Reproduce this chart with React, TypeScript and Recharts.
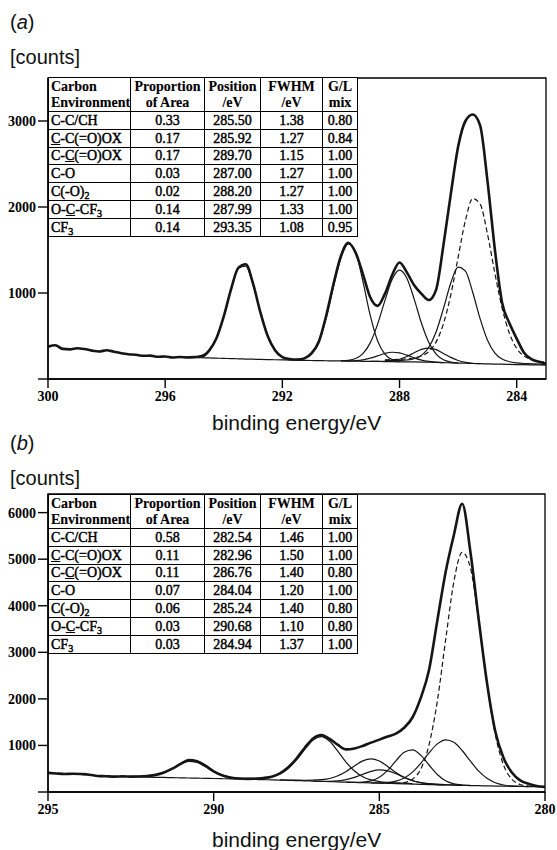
import React from "react";
import { LineChart, Line, XAxis, YAxis, ReferenceArea } from "recharts";

const SERIF = '"Liberation Serif", "DejaVu Serif", serif';
const SANS = '"Liberation Sans", Arial, sans-serif';
const INK = "#151515";

// ---------- panel (a): energy grid, 0.25 eV steps ----------
const E_A = [
  300, 299.75, 299.5, 299.25, 299, 298.75, 298.5, 298.25, 298, 297.75, 297.5, 297.25, 297, 296.75, 296.5,
  296.25, 296, 295.75, 295.5, 295.25, 295, 294.75, 294.5, 294.25, 294, 293.75, 293.5, 293.25, 293, 292.75,
  292.5, 292.25, 292, 291.75, 291.5, 291.25, 291, 290.75, 290.5, 290.25, 290, 289.75, 289.5, 289.25, 289,
  288.75, 288.5, 288.25, 288, 287.75, 287.5, 287.25, 287, 286.75, 286.5, 286.25, 286, 285.75, 285.5, 285.25,
  285, 284.75, 284.5, 284.25, 284, 283.75, 283.5, 283.25, 283,
];
// measured spectrum (counts)
const A_ENV = [
  376, 392, 350, 345, 358, 348, 330, 320, 334, 318,
  300, 288, 282, 270, 272, 258, 262, 250, 256, 250,
  254, 262, 330, 473, 727, 1045, 1295, 1335, 1110, 775,
  500, 335, 255, 232, 226, 240, 300, 440, 740, 1110,
  1430, 1585, 1470, 1220, 950, 850, 990, 1210, 1355, 1240,
  1090, 990, 918, 1040, 1560, 2150, 2700, 3000, 3075, 2950,
  2310, 1520, 890, 650, 470, 305, 230, 200, 180,
];
// [first energy, counts...] for background and fitted components
const A_BG: [number, number[]] = [295.5, [
  255, 252, 250, 247, 245, 242, 240, 237, 235, 232, 230, 228, 226, 224, 222, 220, 219, 217, 215, 214, 212, 211,
  210, 209, 208, 206, 205, 204, 203, 201, 200, 199, 198, 196, 195, 193, 190, 188, 185, 183, 180, 178, 175, 173,
  172, 170, 168, 166, 165, 163, 162,
]];
const A_CF3: [number, number[]] = [295.5, [258, 256, 258, 274, 334, 473, 727, 1045, 1289, 1311, 1099, 778, 500, 331, 255, 230, 223, 220]];
const A_CCOOX_B: [number, number[]] = [291.5, [224, 240, 290, 425, 715, 1080, 1410, 1572, 1477, 1134, 739, 445, 289, 225, 205]];
const A_OCCF3: [number, number[]] = [290, [212, 217, 238, 295, 420, 635, 911, 1159, 1265, 1172, 929, 648, 424, 289, 223, 197, 187]];
const A_CO: [number, number[]] = [289, [205, 205, 206, 212, 230, 262, 305, 344, 360, 341, 297, 251, 215, 194, 183, 179]];
const A_CO2: [number, number[]] = [290, [210, 211, 214, 223, 242, 269, 297, 311, 303, 277, 245, 219, 204, 196, 191]];
const A_CC: [number, number[]] = [288.5, [223, 225, 228, 234, 245, 267, 320, 432, 643, 979, 1415, 1844, 2098, 2035, 1690, 1238, 828, 532, 356, 266, 225, 205, 194]];
const A_CCOOX_A: [number, number[]] = [288.5, [213, 213, 216, 221, 236, 275, 369, 549, 821, 1117, 1301, 1254, 1006, 702, 454, 304, 232, 201, 187, 180, 177, 173, 170]];

// ---------- panel (b) ----------
const E_B = [
  295, 294.75, 294.5, 294.25, 294, 293.75, 293.5, 293.25, 293, 292.75, 292.5, 292.25, 292, 291.75, 291.5,
  291.25, 291, 290.75, 290.5, 290.25, 290, 289.75, 289.5, 289.25, 289, 288.75, 288.5, 288.25, 288, 287.75,
  287.5, 287.25, 287, 286.75, 286.5, 286.25, 286, 285.75, 285.5, 285.25, 285, 284.75, 284.5, 284.25, 284,
  283.75, 283.5, 283.25, 283, 282.75, 282.5, 282.25, 282, 281.75, 281.5, 281.25, 281, 280.75, 280.5, 280.25, 280,
];
const B_ENV = [
  410, 398, 388, 392, 385, 372, 345, 338, 330, 335,
  330, 333, 345, 368, 420, 500, 605, 685, 660, 565,
  445, 360, 310, 290, 282, 284, 300, 330, 400, 530,
  720, 950, 1150, 1225, 1140, 1010, 915, 935, 990, 1060,
  1125, 1190, 1255, 1380, 1600, 2020, 2620, 3680, 4720, 5520,
  6190, 5150, 3700, 2340, 1300, 730, 420, 250, 175, 128,
  110,
];
const B_BG: [number, number[]] = [292.5, [
  328, 324, 320, 316, 312, 309, 305, 301, 297, 294, 290, 286, 282, 279, 275, 270, 265, 260, 255, 250, 245, 240,
  235, 229, 222, 216, 210, 205, 200, 195, 190, 185, 180, 175, 170, 165, 160, 155, 150, 146, 142, 139, 135, 132,
  128, 125, 122, 119, 117, 114, 112,
]];
const B_OCCF3: [number, number[]] = [292.5, [336, 336, 342, 365, 416, 501, 597, 657, 634, 543, 439, 362, 317, 295, 284, 276]];
const B_CCOOX_B: [number, number[]] = [289.5, [294, 293, 293, 294, 302, 328, 388, 506, 689, 916, 1115, 1189, 1089, 874, 637, 450, 327, 259, 226, 208, 197, 189, 182]];
const B_CO2: [number, number[]] = [288, [261, 257, 254, 252, 254, 264, 290, 348, 441, 560, 668, 713, 665, 550, 419, 313, 242, 201, 180, 168, 160, 154, 148]];
const B_CF3: [number, number[]] = [287, [236, 231, 230, 239, 264, 313, 379, 442, 474, 455, 394, 316, 247, 200, 173, 159, 151]];
const B_CO: [number, number[]] = [286, [210, 208, 212, 239, 315, 464, 670, 852, 905, 791, 580, 377, 242, 176, 150, 141]];
const B_CCOOX_A: [number, number[]] = [285.25, [197, 196, 204, 232, 300, 427, 616, 839, 1033, 1121, 1067, 891, 662, 447, 293, 198, 151, 130, 121, 117]];
const B_CC: [number, number[]] = [285, [190, 186, 185, 201, 272, 492, 1013, 1952, 3262, 4518, 5147, 4808, 3684, 2331, 1237, 577, 274, 161, 127, 116, 112]];

// ---------- fit tables ----------
const ENV_NAMES = [
  <>C-C/CH</>,
  <><u>C</u>-C(=O)OX</>,
  <>C-<u>C</u>(=O)OX</>,
  <>C-O</>,
  <>C(-O)<Sub>2</Sub></>,
  <>O-<u>C</u>-CF<Sub>3</Sub></>,
  <>CF<Sub>3</Sub></>,
];
const A_PROP = ["0.33", "0.17", "0.17", "0.03", "0.02", "0.14", "0.14"];
const A_POS = ["285.50", "285.92", "289.70", "287.00", "288.20", "287.99", "293.35"];
const A_FWHM = ["1.38", "1.27", "1.15", "1.27", "1.27", "1.33", "1.08"];
const A_GL = ["0.80", "0.84", "1.00", "1.00", "1.00", "1.00", "0.95"];
const B_PROP = ["0.58", "0.11", "0.11", "0.07", "0.06", "0.03", "0.03"];
const B_POS = ["282.54", "282.96", "286.76", "284.04", "285.24", "290.68", "284.94"];
const B_FWHM = ["1.46", "1.50", "1.40", "1.20", "1.40", "1.10", "1.37"];
const B_GL = ["1.00", "1.00", "0.80", "1.00", "0.80", "0.80", "1.00"];

function Sub({ children }: { children: React.ReactNode }) {
  return <span style={{ fontSize: 10, position: "relative", top: 3, lineHeight: 0 }}>{children}</span>;
}

type Comp = { key: string; part: [number, number[]]; dashed?: boolean };

function buildRows(energies: number[], env: number[], comps: Comp[]) {
  return energies.map((e, i) => {
    const row: Record<string, number | null> = { e, env: env[i] };
    comps.forEach((c) => {
      const [start, vals] = c.part;
      const k = Math.round((start - e) / 0.25);
      row[c.key] = k >= 0 && k < vals.length ? vals[k] : null;
    });
    return row;
  });
}

const COMPS_A: Comp[] = [
  { key: "bg", part: A_BG },
  { key: "cf3", part: A_CF3 },
  { key: "ccooxb", part: A_CCOOX_B },
  { key: "occf3", part: A_OCCF3 },
  { key: "co", part: A_CO },
  { key: "co2", part: A_CO2 },
  { key: "ccooxa", part: A_CCOOX_A },
  { key: "cc", part: A_CC, dashed: true },
];
const COMPS_B: Comp[] = [
  { key: "bg", part: B_BG },
  { key: "occf3", part: B_OCCF3 },
  { key: "ccooxb", part: B_CCOOX_B },
  { key: "co2", part: B_CO2 },
  { key: "cf3", part: B_CF3 },
  { key: "co", part: B_CO },
  { key: "ccooxa", part: B_CCOOX_A },
  { key: "cc", part: B_CC, dashed: true },
];

const tickStyle = { fontFamily: SERIF, fontSize: 14, fontWeight: 700, fill: "#000" };

function Spectrum(props: {
  rows: Record<string, number | null>[];
  comps: Comp[];
  xDomain: [number, number];
  xTicks: number[];
  yMax: number;
  yTicks: number[];
  height: number;
  right: number;
}) {
  const { rows, comps, xDomain, xTicks, yMax, yTicks, height, right } = props;
  return (
    <LineChart width={557} height={height} data={rows} margin={{ top: 78, right, bottom: 0, left: 0 }}>
      <XAxis
        dataKey="e"
        type="number"
        domain={xDomain}
        reversed
        ticks={xTicks}
        allowDataOverflow
        height={30}
        tickSize={9}
        tickMargin={3}
        tick={tickStyle}
        axisLine={{ stroke: "#000", strokeWidth: 1.4 }}
        tickLine={{ stroke: "#000", strokeWidth: 1.4 }}
      />
      <YAxis
        type="number"
        domain={[0, yMax]}
        ticks={yTicks}
        allowDataOverflow
        width={48}
        tickSize={10}
        tickMargin={2}
        tick={tickStyle}
        tickFormatter={(v: number) => (v === 0 ? "" : String(v))}
        axisLine={{ stroke: "#000", strokeWidth: 1.4 }}
        tickLine={{ stroke: "#000", strokeWidth: 1.4 }}
      />
      <ReferenceArea x1={xDomain[0]} x2={xDomain[1]} y1={0} y2={yMax} fill="none" stroke="#000" strokeWidth={1.3} />
      {comps.map((c) => (
        <Line
          key={c.key}
          dataKey={c.key}
          type="monotone"
          stroke={INK}
          strokeWidth={1.2}
          strokeDasharray={c.dashed ? "5 3" : undefined}
          dot={false}
          isAnimationActive={false}
        />
      ))}
      <Line dataKey="env" type="monotone" stroke={INK} strokeWidth={2.6} dot={false} isAnimationActive={false} />
    </LineChart>
  );
}

const COL_W = [82, 74, 56, 62, 35];

function FitTable(props: { top: number; prop: string[]; pos: string[]; fwhm: string[]; gl: string[] }) {
  const { top, prop, pos, fwhm, gl } = props;
  const cell: React.CSSProperties = {
    border: "1.3px solid #000",
    padding: "0 2px",
    textAlign: "center",
    whiteSpace: "nowrap",
    lineHeight: "15px",
    WebkitTextStroke: "0.45px #000",
  };
  const head: React.CSSProperties = { ...cell, fontWeight: 700, lineHeight: "16px", WebkitTextStroke: "0.1px #000" };
  return (
    <table
      style={{
        position: "absolute",
        left: 48,
        top,
        borderCollapse: "collapse",
        background: "#fff",
        fontFamily: SERIF,
        fontSize: 14,
        color: "#000",
        tableLayout: "fixed",
        width: 309,
      }}
    >
      <colgroup>
        {COL_W.map((w, i) => (
          <col key={i} style={{ width: w }} />
        ))}
      </colgroup>
      <tbody>
        <tr style={{ height: 34 }}>
          <td style={{ ...head, textAlign: "left" }}>Carbon<br />Environment</td>
          <td style={head}>Proportion<br />of Area</td>
          <td style={head}>Position<br />/eV</td>
          <td style={head}>FWHM<br />/eV</td>
          <td style={head}>G/L<br />mix</td>
        </tr>
        {ENV_NAMES.map((n, i) => (
          <tr key={i} style={{ height: 17.8 }}>
            <td style={{ ...cell, textAlign: "left" }}>{n}</td>
            <td style={cell}>{prop[i]}</td>
            <td style={cell}>{pos[i]}</td>
            <td style={cell}>{fwhm[i]}</td>
            <td style={cell}>{gl[i]}</td>
          </tr>
        ))}
      </tbody>
    </table>
  );
}

function Caption(props: { top: number; left: number; size: number; children: React.ReactNode }) {
  return (
    <div
      style={{
        position: "absolute",
        top: props.top,
        left: props.left,
        fontFamily: SANS,
        fontSize: props.size,
        lineHeight: 1,
        color: "#111",
        whiteSpace: "nowrap",
      }}
    >
      {props.children}
    </div>
  );
}

export default function App() {
  const rowsA = buildRows(E_A, A_ENV, COMPS_A);
  const rowsB = buildRows(E_B, B_ENV, COMPS_B);
  return (
    <div style={{ position: "absolute", left: 0, top: 0, width: 557, height: 850, background: "#fff", overflow: "hidden" }}>
      <Caption top={12} left={10} size={20}>(<i>a</i>)</Caption>
      <Caption top={47} left={10} size={20}>[counts]</Caption>
      <div style={{ position: "absolute", left: 0, top: 0 }}>
        <Spectrum
          rows={rowsA}
          comps={COMPS_A}
          xDomain={[283, 300]}
          xTicks={[300, 296, 292, 288, 284]}
          yMax={3500}
          yTicks={[0, 1000, 2000, 3000]}
          height={409}
          right={11}
        />
      </div>
      <FitTable top={77} prop={A_PROP} pos={A_POS} fwhm={A_FWHM} gl={A_GL} />
      <Caption top={412} left={212} size={21}>binding energy/eV</Caption>

      <Caption top={433} left={10} size={20}>(<i>b</i>)</Caption>
      <Caption top={468} left={10} size={20}>[counts]</Caption>
      <div style={{ position: "absolute", left: 0, top: 416 }}>
        <Spectrum
          rows={rowsB}
          comps={COMPS_B}
          xDomain={[280, 295]}
          xTicks={[295, 290, 285, 280]}
          yMax={6400}
          yTicks={[0, 1000, 2000, 3000, 4000, 5000, 6000]}
          height={406}
          right={12}
        />
      </div>
      <FitTable top={494} prop={B_PROP} pos={B_POS} fwhm={B_FWHM} gl={B_GL} />
      <Caption top={829} left={212} size={21}>binding energy/eV</Caption>
    </div>
  );
}
